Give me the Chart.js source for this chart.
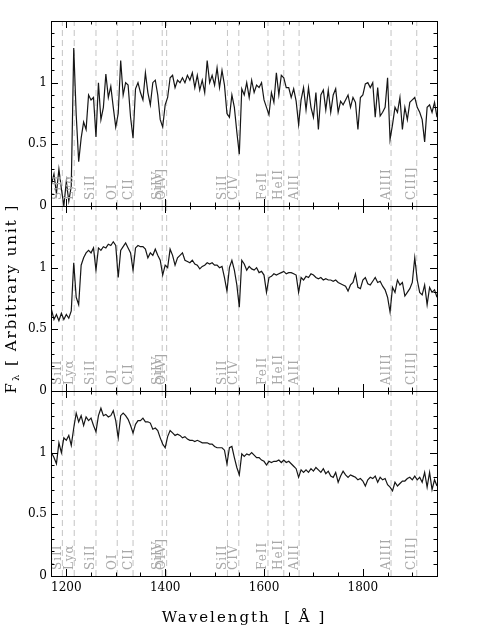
<!DOCTYPE html>
<html>
<head>
<meta charset="utf-8">
<script src="https://cdn.jsdelivr.net/npm/chart.js@4"></script>
<style>
  html, body { margin: 0; padding: 0; background: #fff; }
</style>
</head>
<body>
<canvas id="spec" width="480" height="630"></canvas>
<script>
// wavelength grid in Angstrom (one reading every 5 A)
let wave = [
  1170, 1175, 1180, 1185, 1190, 1195, 1200, 1205, 1210, 1215,
  1220, 1225, 1230, 1235, 1240, 1245, 1250, 1255, 1260, 1265,
  1270, 1275, 1280, 1285, 1290, 1295, 1300, 1305, 1310, 1315,
  1320, 1325, 1330, 1335, 1340, 1345, 1350, 1355, 1360, 1365,
  1370, 1375, 1380, 1385, 1390, 1395, 1400, 1405, 1410, 1415,
  1420, 1425, 1430, 1435, 1440, 1445, 1450, 1455, 1460, 1465,
  1470, 1475, 1480, 1485, 1490, 1495, 1500, 1505, 1510, 1515,
  1520, 1525, 1530, 1535, 1540, 1545, 1550, 1555, 1560, 1565,
  1570, 1575, 1580, 1585, 1590, 1595, 1600, 1605, 1610, 1615,
  1620, 1625, 1630, 1635, 1640, 1645, 1650, 1655, 1660, 1665,
  1670, 1675, 1680, 1685, 1690, 1695, 1700, 1705, 1710, 1715,
  1720, 1725, 1730, 1735, 1740, 1745, 1750, 1755, 1760, 1765,
  1770, 1775, 1780, 1785, 1790, 1795, 1800, 1805, 1810, 1815,
  1820, 1825, 1830, 1835, 1840, 1845, 1850, 1855, 1860, 1865,
  1870, 1875, 1880, 1885, 1890, 1895, 1900, 1905, 1910, 1915,
  1920, 1925, 1930, 1935, 1940, 1945, 1950
];

// top panel (noisy spectrum)
let panel1 = [
  0.18, 0.26, 0.10, 0.30, 0.14, 0.00, 0.20, 0.04, 0.16, 1.28,
  0.74, 0.36, 0.55, 0.68, 0.62, 0.90, 0.86, 0.88, 0.56, 1.00,
  0.70, 0.80, 1.07, 0.88, 0.97, 0.80, 0.64, 0.75, 1.18, 0.90,
  1.00, 0.98, 0.72, 0.55, 0.95, 1.00, 0.92, 0.86, 1.08, 0.92,
  0.82, 1.00, 1.02, 0.90, 0.70, 0.64, 0.82, 0.88, 1.04, 1.06,
  0.96, 1.02, 1.00, 1.04, 1.00, 1.06, 1.02, 1.08, 0.96, 1.06,
  0.94, 1.02, 0.92, 1.18, 1.00, 1.06, 0.98, 1.12, 0.96, 1.10,
  0.98, 0.75, 0.72, 0.90, 0.80, 0.60, 0.42, 0.95, 0.90, 1.00,
  0.88, 1.02, 0.92, 0.98, 0.96, 1.00, 0.86, 0.80, 0.74, 0.92,
  0.84, 1.08, 0.90, 1.06, 1.04, 0.96, 0.96, 0.88, 0.95, 0.85,
  0.66, 0.86, 0.96, 0.78, 0.96, 0.80, 0.72, 0.92, 0.62, 0.90,
  0.94, 0.78, 0.94, 0.76, 0.90, 0.95, 0.76, 0.85, 0.82, 0.86,
  0.90, 0.80, 0.88, 0.84, 0.62, 0.88, 0.90, 0.99, 1.00, 0.96,
  1.00, 0.72, 0.96, 0.73, 0.76, 0.80, 1.04, 0.54, 0.66, 0.80,
  0.76, 0.88, 0.62, 0.80, 0.70, 0.84, 0.86, 0.88, 0.80, 0.76,
  0.70, 0.52, 0.80, 0.82, 0.76, 0.84, 0.72
];

// middle panel
let panel2 = [
  0.66, 0.58, 0.62, 0.57, 0.63, 0.58, 0.62, 0.59, 0.65, 1.04,
  0.76, 0.70, 1.02, 1.08, 1.12, 1.14, 1.12, 1.16, 0.98, 1.16,
  1.14, 1.17, 1.16, 1.19, 1.18, 1.21, 1.18, 0.92, 1.14, 1.17,
  1.20, 1.16, 1.12, 0.98, 1.16, 1.18, 1.17, 1.17, 1.15, 1.08,
  1.12, 1.10, 1.15, 1.10, 1.06, 0.94, 1.02, 1.00, 1.15, 1.10,
  1.02, 1.08, 1.10, 1.12, 1.06, 1.05, 1.04, 1.06, 1.03, 1.02,
  0.99, 1.01, 1.02, 1.04, 1.03, 1.04, 1.02, 1.02, 1.00, 1.01,
  0.92, 0.81, 1.00, 1.06, 0.98, 0.86, 0.68, 1.06, 1.03, 0.98,
  1.01, 0.99, 0.98, 1.00, 0.96, 0.97, 0.94, 0.80, 0.92, 0.93,
  0.95, 0.94, 0.95, 0.96, 0.97, 0.95, 0.96, 0.96, 0.95, 0.94,
  0.80, 0.92, 0.90, 0.93, 0.92, 0.95, 0.94, 0.92, 0.91, 0.92,
  0.90, 0.91, 0.90, 0.90, 0.89, 0.90, 0.88, 0.87, 0.86, 0.85,
  0.81, 0.86, 0.88, 0.95, 0.84, 0.83, 0.90, 0.92, 0.87, 0.86,
  0.89, 0.92, 0.88, 0.89, 0.85, 0.82, 0.76, 0.64, 0.84, 0.80,
  0.90, 0.86, 0.88, 0.77, 0.80, 0.83, 0.88, 1.08, 0.90, 0.80,
  0.78, 0.86, 0.70, 0.84, 0.80, 0.82, 0.76
];

// bottom panel
let panel3 = [
  1.00, 0.96, 0.91, 1.08, 1.00, 1.12, 1.10, 1.14, 1.06, 1.20,
  1.32, 1.25, 1.30, 1.22, 1.29, 1.26, 1.28, 1.22, 1.17, 1.30,
  1.36, 1.30, 1.31, 1.29, 1.30, 1.34, 1.26, 1.12, 1.30, 1.32,
  1.30, 1.27, 1.22, 1.16, 1.23, 1.26, 1.26, 1.28, 1.25, 1.25,
  1.24, 1.19, 1.20, 1.18, 1.12, 1.07, 1.04, 1.13, 1.18, 1.16,
  1.14, 1.15, 1.14, 1.12, 1.13, 1.11, 1.10, 1.10, 1.09, 1.10,
  1.09, 1.08, 1.08, 1.08, 1.07, 1.07, 1.05, 1.04, 1.04, 1.04,
  1.02, 0.91, 1.04, 1.05, 0.96, 0.88, 0.82, 0.99, 0.97, 0.99,
  0.98, 1.00, 0.98, 0.96, 0.96, 0.94, 0.93, 0.90, 0.93, 0.92,
  0.93, 0.93, 0.94, 0.92, 0.94, 0.92, 0.93, 0.91, 0.89, 0.87,
  0.80, 0.86, 0.84, 0.86, 0.84, 0.87, 0.85, 0.88, 0.86, 0.84,
  0.87, 0.83, 0.85, 0.81, 0.80, 0.84, 0.76, 0.81, 0.85, 0.82,
  0.80, 0.82, 0.81, 0.80, 0.78, 0.79, 0.77, 0.73, 0.78, 0.80,
  0.79, 0.81, 0.76, 0.80, 0.78, 0.79, 0.74, 0.72, 0.69, 0.76,
  0.73, 0.75, 0.77, 0.77, 0.79, 0.80, 0.78, 0.81, 0.78, 0.80,
  0.76, 0.84, 0.72, 0.84, 0.70, 0.78, 0.73
];

// emission / absorption line markers
let lineWave = [1192, 1216, 1260, 1303, 1335, 1394, 1403, 1526, 1549, 1608, 1640, 1671, 1857, 1909];
let lineName = ["SiII", "Lyα", "SiII", "OI", "CII", "SiIV", "OIV]", "SiII", "CIV", "FeII", "HeII", "AlII", "AlIII", "CIII]"];

let xTicks = [1200, 1400, 1600, 1800];
let yTicks = [0, 0.5, 1];

let panels = [panel1, panel2, panel3];
let yIds = ["y1", "y2", "y3"];

Chart.defaults.font.family = "DejaVu Serif";
let tickFont = { family: "DejaVu Serif", size: 12 };

function markerPoints() {
    let pts = [];
    lineWave.forEach(w => pts.push({ x: w, y: 0 }, { x: w, y: 1.5 }, { x: w, y: null }));
    return pts;
}

let datasets = [];
panels.forEach((vals, i) => {
    datasets.push({
        data: wave.map((w, j) => ({ x: w, y: vals[j] })),
        xAxisID: "x", yAxisID: yIds[i],
        borderColor: "#161616", borderWidth: 1.2, pointRadius: 0, order: 0
    });
    datasets.push({
        data: markerPoints(),
        xAxisID: "x", yAxisID: yIds[i],
        borderColor: "#c4c4c4", borderWidth: 1, borderDash: [6, 4], pointRadius: 0, order: 1
    });
});

function yScale(weight) {
    return {
        type: "linear", position: "left", stack: "panels", stackWeight: 1, weight: weight,
        min: 0, max: 1.5,
        grid: { display: false, drawTicks: false },
        border: { display: false },
        afterBuildTicks: s => { s.ticks = yTicks.map(v => ({ value: v })); },
        afterFit: s => { s.width = 51; },
        ticks: { font: tickFont, color: "#000", padding: 4, callback: v => String(v) }
    };
}

function crisp(v) { return Math.round(v) + 0.5; }

// frames, inward ticks, line labels and axis titles
const decorPlugin = {
    id: "decor",
    afterDatasetsDraw(chart) {
        const ctx = chart.ctx;
        const xs = chart.scales.x;
        const left = chart.chartArea.left, right = chart.chartArea.right;
        ctx.save();

        // line labels
        ctx.fillStyle = "#a8a8a8";
        ctx.font = "12px 'DejaVu Serif'";
        ctx.letterSpacing = "1px";
        ctx.textAlign = "left";
        ctx.textBaseline = "alphabetic";
        yIds.forEach(id => {
            const ys = chart.scales[id];
            const base = ys.getPixelForValue(0) - 6;
            lineWave.forEach((w, k) => {
                ctx.save();
                ctx.translate(xs.getPixelForValue(w) - 1.5, base);
                ctx.rotate(-Math.PI / 2);
                ctx.fillText(lineName[k], 0, 0);
                ctx.restore();
            });
        });
        ctx.letterSpacing = "0px";

        // panel frames and ticks
        ctx.strokeStyle = "#000";
        ctx.lineWidth = 1;
        yIds.forEach(id => {
            const ys = chart.scales[id];
            const top = ys.top, bottom = ys.bottom;
            ctx.strokeRect(crisp(left), crisp(top), Math.round(right) - Math.round(left), Math.round(bottom) - Math.round(top));
            ctx.beginPath();
            for (let w = 1200; w < 1950; w += 50) {
                const px = crisp(xs.getPixelForValue(w));
                const len = w % 200 === 0 ? 7 : 3.5;
                ctx.moveTo(px, bottom); ctx.lineTo(px, bottom - len);
                ctx.moveTo(px, top); ctx.lineTo(px, top + len);
            }
            for (let k = 1; k < 15; k++) {
                const py = crisp(ys.getPixelForValue(k / 10));
                const len = k % 5 === 0 ? 7 : 3.5;
                ctx.moveTo(left, py); ctx.lineTo(left + len, py);
                ctx.moveTo(right, py); ctx.lineTo(right - len, py);
            }
            ctx.stroke();
        });

        // x title
        ctx.fillStyle = "#000";
        ctx.font = "15px 'DejaVu Serif'";
        ctx.letterSpacing = "2px";
        ctx.textAlign = "center";
        ctx.textBaseline = "middle";
        ctx.fillText("Wavelength  [ Å ]", (left + right) / 2, 618);

        // y title with subscript lambda
        const cy = (chart.scales.y1.top + chart.scales.y3.bottom) / 2;
        ctx.save();
        ctx.translate(12, cy);
        ctx.rotate(-Math.PI / 2);
        ctx.textAlign = "left";
        ctx.font = "15px 'DejaVu Serif'";
        const wF = ctx.measureText("F").width;
        const rest = " [ Arbitrary unit ]";
        const wR = ctx.measureText(rest).width;
        ctx.font = "10px 'DejaVu Serif'";
        const wL = ctx.measureText("λ").width;
        let x0 = -(wF + wL + wR) / 2;
        ctx.font = "15px 'DejaVu Serif'";
        ctx.fillText("F", x0, 0);
        ctx.font = "10px 'DejaVu Serif'";
        ctx.fillText("λ", x0 + wF, 4);
        ctx.font = "15px 'DejaVu Serif'";
        ctx.fillText(rest, x0 + wF + wL, 0);
        ctx.restore();

        ctx.restore();
    }
};

new Chart(document.getElementById("spec").getContext("2d"), {
    type: "line",
    data: { datasets: datasets },
    options: {
        responsive: false,
        animation: false,
        layout: { padding: { left: 0, right: 43, top: 21, bottom: 0 } },
        plugins: { legend: { display: false }, tooltip: { enabled: false } },
        elements: { line: { tension: 0 } },
        scales: {
            x: {
                type: "linear", position: "bottom", min: 1169, max: 1950,
                grid: { display: false, drawTicks: false },
                border: { display: false },
                afterBuildTicks: s => { s.ticks = xTicks.map(v => ({ value: v })); },
                afterFit: s => { s.height = 54; },
                ticks: { font: tickFont, color: "#000", padding: 5, maxRotation: 0, autoSkip: false, callback: v => String(v) }
            },
            y1: yScale(3),
            y2: yScale(2),
            y3: yScale(1)
        }
    },
    plugins: [decorPlugin]
});
</script>
</body>
</html>
